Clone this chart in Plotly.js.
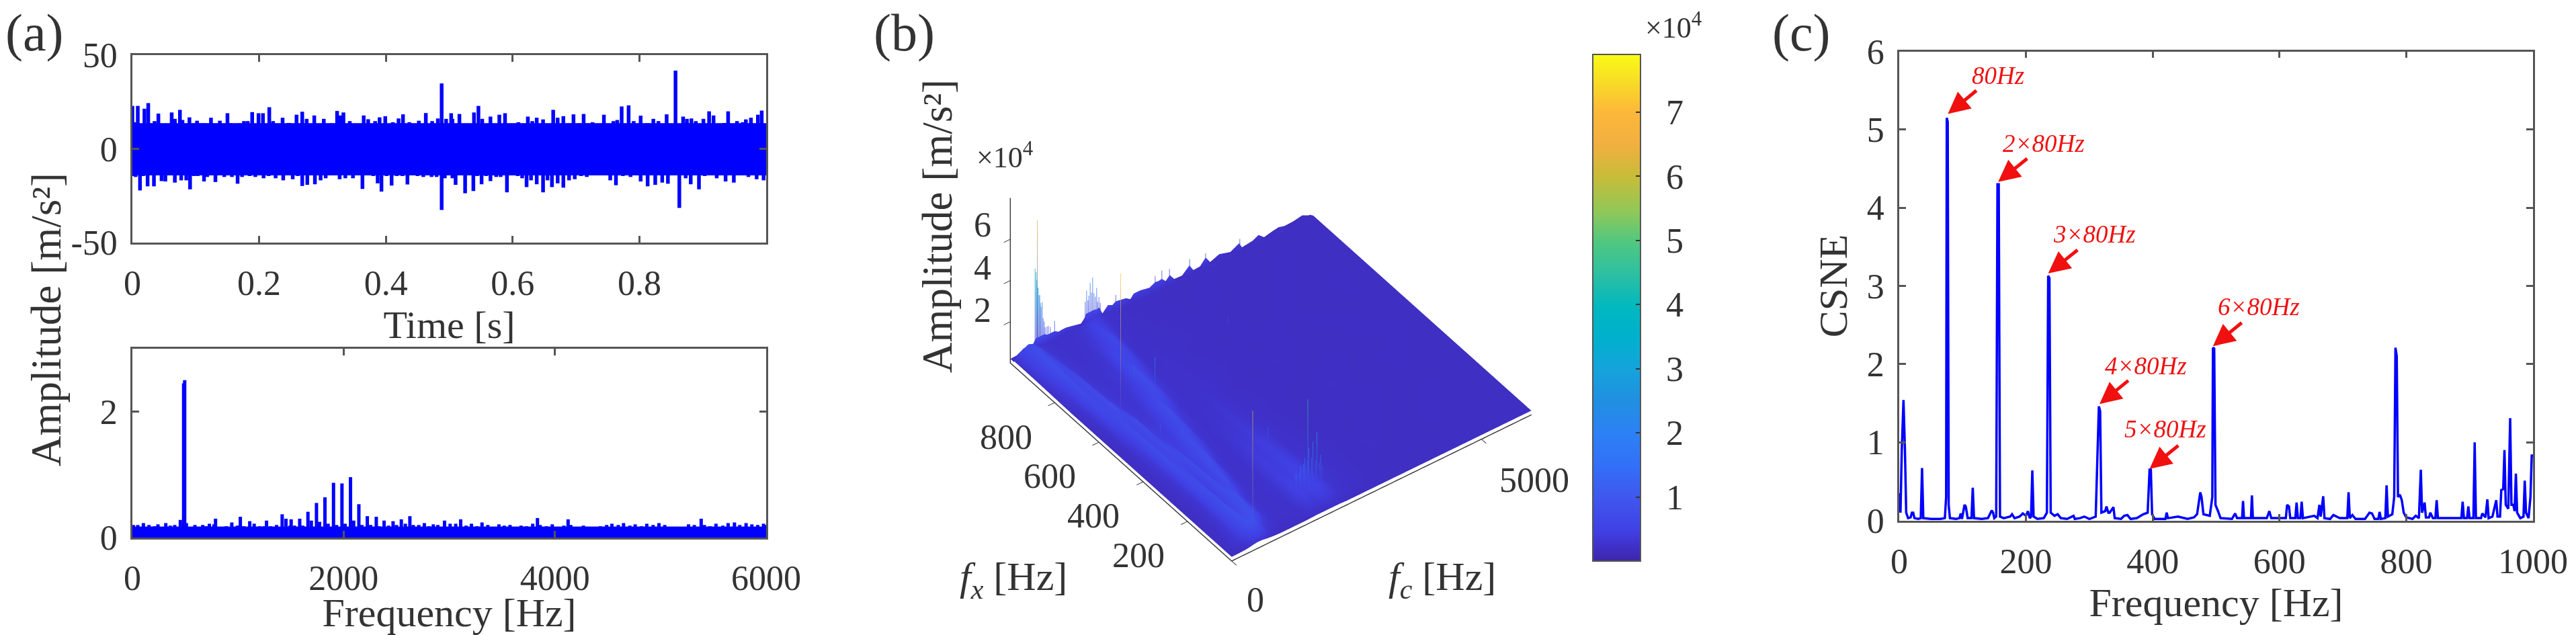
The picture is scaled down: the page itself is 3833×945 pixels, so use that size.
<!DOCTYPE html>
<html><head><meta charset="utf-8">
<script src="https://cdn.plot.ly/plotly-3.0.1.min.js"></script>
<style>html,body{margin:0;padding:0;background:#fff}</style></head>
<body><div id="chart" style="width:3833px;height:945px"></div>
<script>
const sigUpT=[0,.003,.0085,.014,.019,.025,.030,.035,.041,.046,.051,.055,.062,.067,.075,.079,.084,.090,.097,.102,.107,.113,.118,.124,.132,.138,.145,.150,.155,.162,.168,.176,.182,.189,.194,.199,.206,.211,.216,.222,.229,.237,.242,.247,.253,.259,.268,.275,.281,.287,.293,.302,.307,.314,.323,.328,.333,.337,.343,.351,.358,.365,.372,.378,.383,.390,.399,.405,.411,.420,.427,.433,.437,.443,.452,.463,.466,.473,.482,.488,.495,.503,.505,.509,.516,.525,.532,.539,.546,.552,.557,.565,.573,.579,.588,.595,.602,.609,.616,.624,.631,.638,.641,.648,.657,.664,.671,.680,.689,.696,.705,.712,.718,.726,.735,.744,.752,.759,.765,.772,.778,.783,.791,.802,.813,.822,.830,.837,.843,.850,.857,.863,.869,.875,.882,.889,.896,.901,.910,.917,.926,.934,.940,.948,.954,.963,.968,.976,.987,.993,.998,1];
const sigUpV=[22.9,14.2,22.9,13,21.4,24.4,13.6,14.8,18.8,11.8,12.2,10.3,19.4,16,20.8,15.4,12.4,16.8,13.6,15,13.6,13.6,11.2,16.6,13,15,13,19,13.6,10,13.6,14.8,14.8,19.6,13,19,19,13,22.2,14.8,13,16.6,10,13.8,12.4,18.2,19.8,16,13,17.8,10,16,11.8,13.6,20.2,17.8,19.4,10,14.8,13,10.6,17.8,15.8,11.8,14.8,16.8,17.4,10.6,14.2,16.2,18.4,11.8,14.2,13,15,19.1,13,14.8,16.2,34.9,16,19,16,13.4,18.6,12.4,10,19.4,22.9,16,11.8,17.2,12.7,18.2,19,8.8,12.4,14.2,10.6,17.2,14.8,16.6,11.2,15.7,12.4,20.8,16.6,17.4,13.6,18.4,13.6,18.6,13.6,14.2,13,18.2,8.2,14.8,15.4,22.6,10,23.2,14.8,17.7,13.6,16,14.8,12.4,18.4,12.7,41.7,11.2,17.2,16,16.2,14.8,12.4,16,20,17.8,10,13.8,20,13,14.8,14.2,15.7,16.6,18.2,20.4,10];
const sigLoT=[0,.005,.012,.017,.024,.030,.034,.040,.046,.052,.060,.067,.072,.077,.085,.091,.097,.103,.107,.113,.118,.125,.131,.138,.145,.150,.157,.166,.173,.178,.185,.194,.199,.207,.215,.226,.238,.245,.253,.261,.268,.276,.282,.288,.297,.305,.314,.327,.336,.341,.348,.355,.363,.371,.380,.387,.393,.401,.409,.417,.426,.434,.442,.450,.459,.472,.480,.488,.493,.502,.505,.510,.518,.525,.532,.538,.544,.551,.558,.565,.574,.581,.591,.599,.608,.615,.622,.629,.638,.648,.655,.662,.671,.680,.689,.698,.708,.717,.728,.738,.754,.763,.774,.786,.802,.813,.825,.836,.845,.852,.863,.873,.881,.894,.903,.922,.936,.949,.961,.972,.985,.996,1];
const sigLoV=[-14.5,-15,-22.2,-14.5,-20,-11.5,-20,-12,-17.2,-17.4,-12.7,-18,-12.7,-16.8,-16.8,-21.6,-14.5,-14.5,-11.5,-17.4,-15,-13.3,-17.7,-10.9,-15,-12.7,-15,-18.6,-15,-10.3,-14.5,-15,-10.3,-15.7,-14.5,-15.7,-16.8,-11.5,-16.2,-14.5,-19.8,-19.2,-12,-18.9,-16.8,-15.7,-10.9,-16.2,-15.7,-11.5,-15.7,-12,-21.4,-10.9,-14.5,-18.4,-22.8,-14.5,-19.6,-14.5,-14.5,-19,-11.5,-14.5,-15,-15,-15,-32.6,-15.7,-13.9,-15.7,-19.2,-10.3,-23.7,-13.3,-22.5,-14.5,-18.9,-14.5,-17.2,-15,-15,-23.2,-13.9,-14.5,-15.7,-20.4,-16.8,-18.9,-23.2,-16.8,-20.4,-18.4,-20.7,-16.8,-16.2,-14.5,-15,-13.3,-13.9,-16.8,-19.4,-14.5,-15,-17.4,-20,-19.2,-18,-18.6,-13.9,-31.5,-15.7,-18.9,-21.6,-14.5,-15.7,-17.4,-18,-12,-15,-16.2,-16.8,-13.9];
const coreT=[0,1];
const coreUp=[13.5,13.5];
const coreLo=[-14,-14];
const specF=[0,9,51,104,157,210,242,274,316,358,401,454,485,495,511,560,592,630,666,698,729,772,787,814,888,941,994,1022,1052,1111,1153,1206,1249,1270,1308,1365,1418,1454,1492,1503,1535,1584,1613,1662,1694,1743,1772,1823,1853,1904,1933,1984,2014,2065,2095,2144,2173,2224,2256,2309,2334,2383,2425,2468,2500,2546,2584,2627,2659,2711,2764,2807,2849,2892,2955,3008,3061,3108,3160,3210,3262,3310,3365,3410,3470,3520,3575,3625,3680,3730,3790,3835,3860,3920,3975,4030,4085,4125,4150,4210,4270,4320,4375,4430,4490,4540,4600,4650,4710,4760,4820,4870,4930,4985,5040,5095,5150,5210,5265,5320,5385,5415,5470,5525,5590,5640,5700,5750,5810,5865,5920,5975,6000];
const specA=[.1,.2,.2,.23,.2,.18,.21,.17,.23,.19,.2,.28,2.45,2.5,.23,.17,.2,.16,.2,.18,.22,.21,.3,.16,.18,.24,.19,.33,.18,.26,.22,.18,.18,.27,.18,.2,.37,.3,.19,.29,.19,.3,.19,.41,.27,.55,.25,.64,.22,.87,.2,.86,.22,.96,.27,.53,.2,.34,.2,.33,.18,.27,.19,.26,.2,.29,.22,.34,.2,.2,.23,.18,.21,.2,.27,.22,.22,.29,.19,.22,.18,.24,.2,.17,.21,.19,.2,.16,.19,.18,.22,.31,.2,.18,.21,.17,.19,.29,.2,.16,.19,.15,.17,.18,.2,.22,.2,.23,.19,.21,.18,.22,.2,.23,.2,.17,.15,.17,.21,.2,.3,.2,.18,.22,.19,.23,.24,.2,.23,.21,.2,.22,.2];
const specCoreF=[0,6000];
const specCoreA=[.17,.17];
const cFreq=[0,2,4,6.7,9,11,14,18,20,22,24,30,34,36,38,50,65,72,74,75,76.5,78,80,90,95,97,99,103,105,108,114,116,118,130,140,146,148,150,153,155,157,159,165,175,178,182,190,195,200,203,206,208,210,212,218,228,233,235,237,239,245,250,255,265,275,277,285,292,300,310,315,317,319,325,327,330,332,338,340,350,355,360,365,375,385,392,395,397,399,403,420,422,424,440,445,455,465,470,475,477,480,490,494,495,497,499,503,507,525,530,533,541,542.5,544,555,556.5,558,580,584,587,610,612,615,617,625,627,629,633,635,637,655,660,663,665,669,671,680,685,695,707,709,711,715,720,735,742,746,750,756,758,760,767,769,771,778,781,783,785,787,790,793,796,800,810,815,820,823,825,829,831,836,838,842,846,848,850,865,880,887,889,891,896,898,900,906,908,910,918,920,925,928,930,936,942,944,948,950,953,955,957,961,964,966,969,971,973,975,980,985,987,989,993,996,998,1000];
const cAmp=[.35,.1,.9,1.54,.9,.1,.03,.04,.1,.1,.03,.02,.03,.67,.03,.02,.02,.03,.3,5.15,5.1,.2,.03,.02,.03,.09,.02,.2,.18,.03,.03,.42,.03,.02,.03,.13,.1,.03,.05,4.3,4.3,.05,.03,.05,.08,.03,.05,.09,.06,.12,.03,.05,.64,.05,.02,.03,.1,3.13,3.1,.1,.06,.08,.03,.02,.06,.02,.03,.05,.02,.05,1.46,1.4,.1,.12,.18,.1,.1,.17,.03,.02,.06,.07,.02,.03,.08,.1,.65,.65,.08,.02,.02,.1,.03,.05,.04,.02,.04,.08,.36,.3,.08,.06,.3,2.21,2.2,.2,.12,.03,.02,.09,.03,.03,.25,.03,.03,.32,.03,.03,.12,.03,.03,.2,.18,.03,.03,.23,.03,.03,.24,.03,.06,.03,.2,.05,.31,.03,.02,.07,.03,.03,.36,.03,.07,.02,.02,.1,.09,.02,.02,.11,.02,.03,.45,.05,.08,.3,2.21,2.1,.3,.33,.26,.1,.04,.02,.06,.03,.65,.1,.23,.04,.04,.1,.03,.03,.26,.03,.03,.03,.03,.24,.03,.03,.18,.03,.03,1,.03,.03,.09,.04,.27,.03,.05,.26,.05,.05,.39,.4,.9,.2,.15,1.31,.2,.2,.12,.6,.1,.03,.05,.51,.1,.03,.3,.83,.83];
const peakFreq=[76.7,156,235,316,395,495];
const peakAmp=[5.2,4.33,3.16,1.49,.66,2.23];
const tailFreq=[123.4,203.5,283,363,442,542];
const tailAmp=[5.51,4.64,3.47,1.8,.97,2.54];
const peakText=["80Hz","2×80Hz","3×80Hz","4×80Hz","5×80Hz","6×80Hz"];
const labelFreq=[156,228.5,308,389,420,567];
const labelAmp=[5.69,4.82,3.66,1.98,1.17,2.73];
const fcGrid=[0,150,300,400,500,600,700,800,900,1000,1150,1300,1500,1680,1760,1840,1920,2000,2080,2160,2300,2600,3000,3400,3800,4200,4600,5000,5400,5800,6000];
const fxGrid=[0,40,80,160,240,320,400,480,560,640,720,800,880,960,985];
const zRows=[
[2,2,2.2,2.6,3,3,2.6,2.3,2.1,2,2,2,2,2.2,2.2,2.2,2.2,2.2,2.2,2.2,2,2,2,2,2,2,2,2,2,2,2],
[2,2.5,3.5,5.5,8,8.5,7,4,3,2.6,2.4,2.4,2.5,3.5,3.8,3.6,4,4.2,4,3.6,2.8,2.3,2.1,2,2,2,2,2,2,2,2],
[2,2.3,3.5,6,8,7,8,7,4.5,3,2.6,2.5,2.7,4.5,5,4.5,5,5.5,5,4.5,3,2.4,2.1,2,2,2,2,2,2,2,2],
[2,2.2,3.2,6,8,5,7,8,5,3.2,2.6,2.5,2.8,4.5,4.6,4.4,4.8,5,4.8,4.2,3,2.4,2.1,2.2,2,2,2.1,2,2,2,2],
[2,2.2,3,6.5,7.5,4.5,7.5,5.5,7.5,5,2.8,2.5,2.7,4,4.2,4,4.4,4.6,4.2,3.8,2.8,2.3,2.1,2,2.1,2,2,2.1,2,2,2],
[2,2.2,3.2,7,6.5,5,7.5,4.5,7.5,7,3.2,2.6,2.6,3.5,3.8,3.6,4,4.2,3.8,3.4,2.6,2.3,2,2.1,2,2.1,2,2,2,2,2],
[2,2.2,3.5,7.5,6,6.5,6.5,4.5,5.5,7.5,5,2.8,2.6,3,3.2,3.1,3.5,3.6,3.2,3,2.5,2.2,2,2,2.2,2,2,2.1,2,2,2],
[2,2.2,4,7.5,5.5,7,4.5,4,4,6,7,3.2,2.6,2.7,2.8,2.7,3,3.1,2.8,2.7,2.4,2.2,2.1,2,2,2.1,2,2,2.1,2,2],
[2,2.3,5,7,5.5,7.5,4,3.5,3.5,4.5,7.5,4.5,2.7,2.6,2.6,2.6,2.7,2.8,2.6,2.5,2.3,2.1,2,2.2,2,2,2,2.1,2,2,2],
[2,2.4,6,6.5,7.5,5,3.6,3.2,3.1,3.6,5.5,7,3.2,2.5,2.5,2.4,2.5,2.6,2.5,2.4,2.3,2.2,2.1,2,2.1,2,2.1,2,2,2,2],
[2,3,7,6,7,4,3.2,3,2.9,3.2,4,7.5,4,2.5,2.4,2.4,2.4,2.5,2.4,2.3,2.2,2.1,2,2.1,2,2.1,2,2,2.1,2,2],
[2.2,4,7.5,6,6.5,3.6,3,2.8,2.7,2.9,3.2,6,5.5,2.8,2.4,2.3,2.4,2.4,2.3,2.3,2.2,2.2,2.1,2,2,2,2.1,2,2,2,2],
[2.4,5,7.5,6.5,5,3.2,2.9,2.7,2.6,2.7,2.9,4,6.5,3.2,2.5,2.4,2.3,2.3,2.3,2.2,2.2,2.1,2,2.1,2,2,2,2.1,2,2,2],
[2.5,5.5,7.5,6.5,4,3,2.7,2.6,2.5,2.6,2.7,3.2,5,4,3,2.6,2.4,2.4,2.3,2.2,2.1,2.1,2,2,2.1,2,2,2,2,2,2],
[2.5,5.5,7,6,3.6,2.9,2.7,2.6,2.5,2.5,2.6,2.9,4,4.2,3.2,2.7,2.5,2.4,2.3,2.2,2.1,2.1,2,2,2,2,2,2,2,2,2]
];
const edgeFc=[0,131,266,356,446,482,514,559,626,680,739,806,887,964,1031,1121,1233,1413,1481,1517,1571,1638,1683,1728,1782,1841,1953,2043,2110,2178,2313,2403,2470,2605,2785,2898,2965,3032,3109,3190,3280,3437,3586,3662,3797,3910,4000,4180,4404,4584,4629,4854,4967,5079,5259,5372,5484,5664,5844,5979,6000];
const edgeZ=[2,2.2,4,2.3,3.4,5,6,6,6,6,5,5,5,3.8,4,4,3.4,2.4,4.2,6,6,6,6,5.6,6,2.2,5,4,5,4.7,4.1,2.6,4.5,4.5,3.6,5,4.7,5,3,5,2,1.8,5,1.8,2,5,1.7,3.4,1.8,4,1.3,2,3.4,1,2,2.4,1.6,1.8,2.6,1,1];
const fringeFc=[500,515,530,545,560,575,590,605,620,640,660,680,700,730,760,800,890,1500,1525,1550,1575,1600,1625,1650,1675,1700,1725,1750,1775,1800,2110,2900,3030,3190,3590,3910,4590];
const fringeTop=[40,38,34,30,30,26,26,22,20,22,14,12,9,9,9,8,10,12,17,12,14,20,15,22,14,12,16,9,11,8,8,8,9,8,8,7,6];
const spikeFc=[540,580,600,1600,1640,1680,1720,1760,1800,1840,1880,1920,1960,2000,2040,2080,2120,2160,2200,2260,2010,1300,1150,700,880,2060,3300];
const spikeFx=[1000,632,40,100,100,85,100,85,100,85,100,85,100,85,100,85,100,85,100,100,110,640,700,480,420,300,760];
const spikeBase=[5,4,8,4,4,5,4,5,4,5,4,5,4,5,4,5,4,5,4,4,5,3,3,3,3,3,3];
const spikeTop=[63,72,62,8,10,14,12,17,12,20,15,24,16,26,16,30,14,18,12,10,44,22,14,12,14,12,7];
const zTickVals=[2e4,4e4,6e4];
const fxTickVals=[200,400,600,800];
const fcTickVals=[0,5000];
const cbTicks=[1e4,2e4,3e4,4e4,5e4,6e4,7e4];

const W=3833,H=945;
const px=v=>v/W, py=v=>1-v/H;
const FF='Liberation Serif', TC='#333333', BL='#0000ff';
const parula=[[0,'#3e26a8'],[.028,'#3f30c8'],[.06,'#4040e4'],[.127,'#3f58ee'],[.19,'#3270f8'],[.25,'#2d80f5'],[.32,'#2090e0'],[.38,'#15a4dc'],[.44,'#00b0cd'],[.5,'#00b8c0'],[.57,'#2fc0a0'],[.63,'#50c880'],[.69,'#90c858'],[.76,'#c8bc38'],[.82,'#f0b040'],[.886,'#fdb83a'],[.94,'#f8d828'],[1,'#f9fb15']];

function ax2d(dom,extra,isX,anchor,titleText,standoff,titleSize){
  return Object.assign({domain:dom,anchor:anchor,showline:true,linecolor:'#555',linewidth:2.5,mirror:'ticks',ticks:'inside',ticklen:10,tickwidth:2.5,tickcolor:'#555',showgrid:false,zeroline:false,tickfont:{family:FF,size:52,color:TC},ticklabelstandoff:isX?13:9,title:{text:titleText||'',standoff:standoff,font:{family:FF,size:titleSize||60,color:TC}}},extra);
}
function stems(xs,ys){const X=[],Y=[];xs.forEach((v,i)=>{X.push(v,v,null);Y.push(0,ys[i],null);});return {x:X,y:Y};}
function stems3d(fc,fx,base,top){const X=[],Y=[],Z=[];fc.forEach((f,i)=>{X.push(f,f,null);Y.push(fx[i],fx[i],null);Z.push(base[i]*1000,top[i]*1000,null);});return {x:X,y:Y,z:Z};}
const su=stems(sigUpT,sigUpV), sl=stems(sigLoT,sigLoV), sp=stems(specF,specA);
const sk=stems3d(spikeFc,spikeFx,spikeBase,spikeTop);
const fr=stems3d(fringeFc,fringeFc.map(()=>1000),fringeFc.map(()=>3),fringeTop);
const flat={ambient:1,diffuse:0,specular:0,roughness:1,fresnel:0};
const noCont={x:{show:false},y:{show:false},z:{show:false}};
const traces=[
 {type:'scatter',x:su.x,y:su.y,xaxis:'x',yaxis:'y',mode:'lines',line:{color:BL,width:5.5}},
 {type:'scatter',x:sl.x,y:sl.y,xaxis:'x',yaxis:'y',mode:'lines',line:{color:BL,width:5.5}},
 {type:'scatter',x:coreT,y:coreUp,xaxis:'x',yaxis:'y',mode:'lines',line:{color:BL,width:1},fill:'tozeroy',fillcolor:BL},
 {type:'scatter',x:coreT,y:coreLo,xaxis:'x',yaxis:'y',mode:'lines',line:{color:BL,width:1},fill:'tozeroy',fillcolor:BL},
 {type:'scatter',x:coreT,y:[0,0],xaxis:'x',yaxis:'y',mode:'lines',line:{color:BL,width:4}},
 {type:'scatter',x:sp.x,y:sp.y,xaxis:'x2',yaxis:'y2',mode:'lines',line:{color:BL,width:5}},
 {type:'scatter',x:specCoreF,y:specCoreA,xaxis:'x2',yaxis:'y2',mode:'lines',line:{color:BL,width:1},fill:'tozeroy',fillcolor:BL},
 {type:'scatter',x:cFreq,y:cAmp,xaxis:'x3',yaxis:'y3',mode:'lines',line:{color:BL,width:3.5}},
 {type:'surface',scene:'scene',x:fcGrid,y:fxGrid,z:zRows.map(r=>r.map(v=>v*1000)),coloraxis:'coloraxis',lighting:flat,showscale:false,contours:noCont,hoverinfo:'skip'},
 {type:'surface',scene:'scene',x:edgeFc,y:[985,1000],z:[edgeFc.map(()=>2000),edgeZ.map(v=>v*1000)],coloraxis:'coloraxis',lighting:flat,contours:noCont,hoverinfo:'skip'},
 {type:'scatter3d',scene:'scene',mode:'lines',opacity:.7,x:sk.x,y:sk.y,z:sk.z,line:{width:2,color:sk.z.map(v=>v===null?0:v),coloraxis:'coloraxis'},hoverinfo:'skip'},
 {type:'scatter3d',scene:'scene',mode:'lines',opacity:.5,x:fr.x,y:fr.y,z:fr.z,line:{width:3,color:fr.z.map(v=>v===null?0:v),coloraxis:'coloraxis'},hoverinfo:'skip'}
];
const txt=(t,x,y,size,rot)=>({text:t,xref:'paper',yref:'paper',x:px(x),y:py(y),xanchor:'center',yanchor:'middle',showarrow:false,textangle:rot||0,font:{family:FF,size:size,color:TC}});
const ann=[
 txt('(a)',51,49,78),txt('(b)',1345,49,78),txt('(c)',2680,48,78),
 txt('Amplitude [m/s²]',69,476,63,-90),
 txt('Amplitude [m/s²]',1395,337,63,-90),
 txt('×10<sup>4</sup>',1495,232,44),txt('×10<sup>4</sup>',2490,39,44),
 txt('<i>f<sub>x</sub></i> [Hz]',1508,862,60),txt('<i>f<sub>c</sub></i> [Hz]',2146,862,60),
];
peakFreq.forEach((f,i)=>{
 ann.push({xref:'x3',yref:'y3',x:f,y:peakAmp[i],ax:tailFreq[i],ay:tailAmp[i],axref:'x3',ayref:'y3',text:'',showarrow:true,arrowhead:2,arrowsize:1.3,arrowwidth:5,arrowcolor:'#f01010',standoff:0});
 ann.push({xref:'x3',yref:'y3',x:labelFreq[i],y:labelAmp[i],text:'<i>'+peakText[i]+'</i>',showarrow:false,font:{family:FF,size:37,color:'#f01010'},xanchor:'center',yanchor:'middle'});
});
const sceneAxis=(vals,rng)=>({range:rng,tickvals:vals,showticklabels:false,ticks:'outside',ticklen:12,tickcolor:'#333',tickwidth:2,showline:true,linecolor:'#333',linewidth:3,showgrid:false,zeroline:false,showbackground:false,showspikes:false,title:{text:''}});
[['6',1462,334.5],['4',1462,398],['2',1462,461],['800',1497,650],['600',1562,708],['400',1627,767],['200',1694,826],['0',1868,892],['5000',2283,714]].forEach(a=>ann.push(txt(a[0],a[1],a[2],52)));
const D=1.5, S=1.32;
const layout={
 width:W,height:H,margin:{l:0,r:0,t:0,b:0},paper_bgcolor:'#fff',plot_bgcolor:'#fff',showlegend:false,font:{family:FF,color:TC},
 xaxis:ax2d([px(197),px(1140)],{range:[0,1],tickvals:[0,.2,.4,.6,.8]},true,'y','Time [s]',14,58),
 yaxis:ax2d([py(361),py(82)],{range:[-50,50],tickvals:[-50,0,50],ticktext:['-50','0','50']},false,'x'),
 xaxis2:ax2d([px(197),px(1140)],{range:[0,6000],tickvals:[0,2000,4000,6000]},true,'y2','Frequency [Hz]',4,60),
 yaxis2:ax2d([py(800),py(519)],{range:[0,3],tickvals:[0,2]},false,'x2'),
 xaxis3:ax2d([px(2826),px(3769)],{range:[0,1000],tickvals:[0,200,400,600,800,1000]},true,'y3','Frequency [Hz]',12,60),
 yaxis3:ax2d([py(774.6),py(76.5)],{range:[0,6],tickvals:[0,1,2,3,4,5,6]},false,'x3','CSNE',10,60),
 scene:{domain:{x:[px(1391),px(2391)],y:[py(876),py(36)]},
  xaxis:sceneAxis(fcTickVals,[0,6000]),yaxis:sceneAxis(fxTickVals,[0,1000]),zaxis:sceneAxis(zTickVals,[0,8e4]),
  aspectmode:'manual',aspectratio:{x:S,y:S,z:.59*S},
  camera:{projection:{type:'orthographic'},center:{x:0,y:0,z:0},up:{x:0,y:0,z:1},eye:{x:-.446*D,y:-.604*D,z:.661*D}}},
 coloraxis:{cmin:0,cmax:7.9e4,colorscale:parula,colorbar:{x:px(2370),xanchor:'left',y:py(458),yanchor:'middle',len:754,lenmode:'pixels',thickness:71,thicknessmode:'pixels',xpad:0,ypad:0,outlinecolor:'#555',outlinewidth:2,ticks:'inside',ticklen:8,tickcolor:'#333',tickwidth:2,tickvals:cbTicks,ticktext:['\u00a0\u00a01','\u00a0\u00a02','\u00a0\u00a03','\u00a0\u00a04','\u00a0\u00a05','\u00a0\u00a06','\u00a0\u00a07'],tickfont:{family:FF,size:52,color:TC}}},
 annotations:ann
};
Plotly.newPlot('chart',traces,layout,{displayModeBar:false,responsive:false});
</script></body></html>
